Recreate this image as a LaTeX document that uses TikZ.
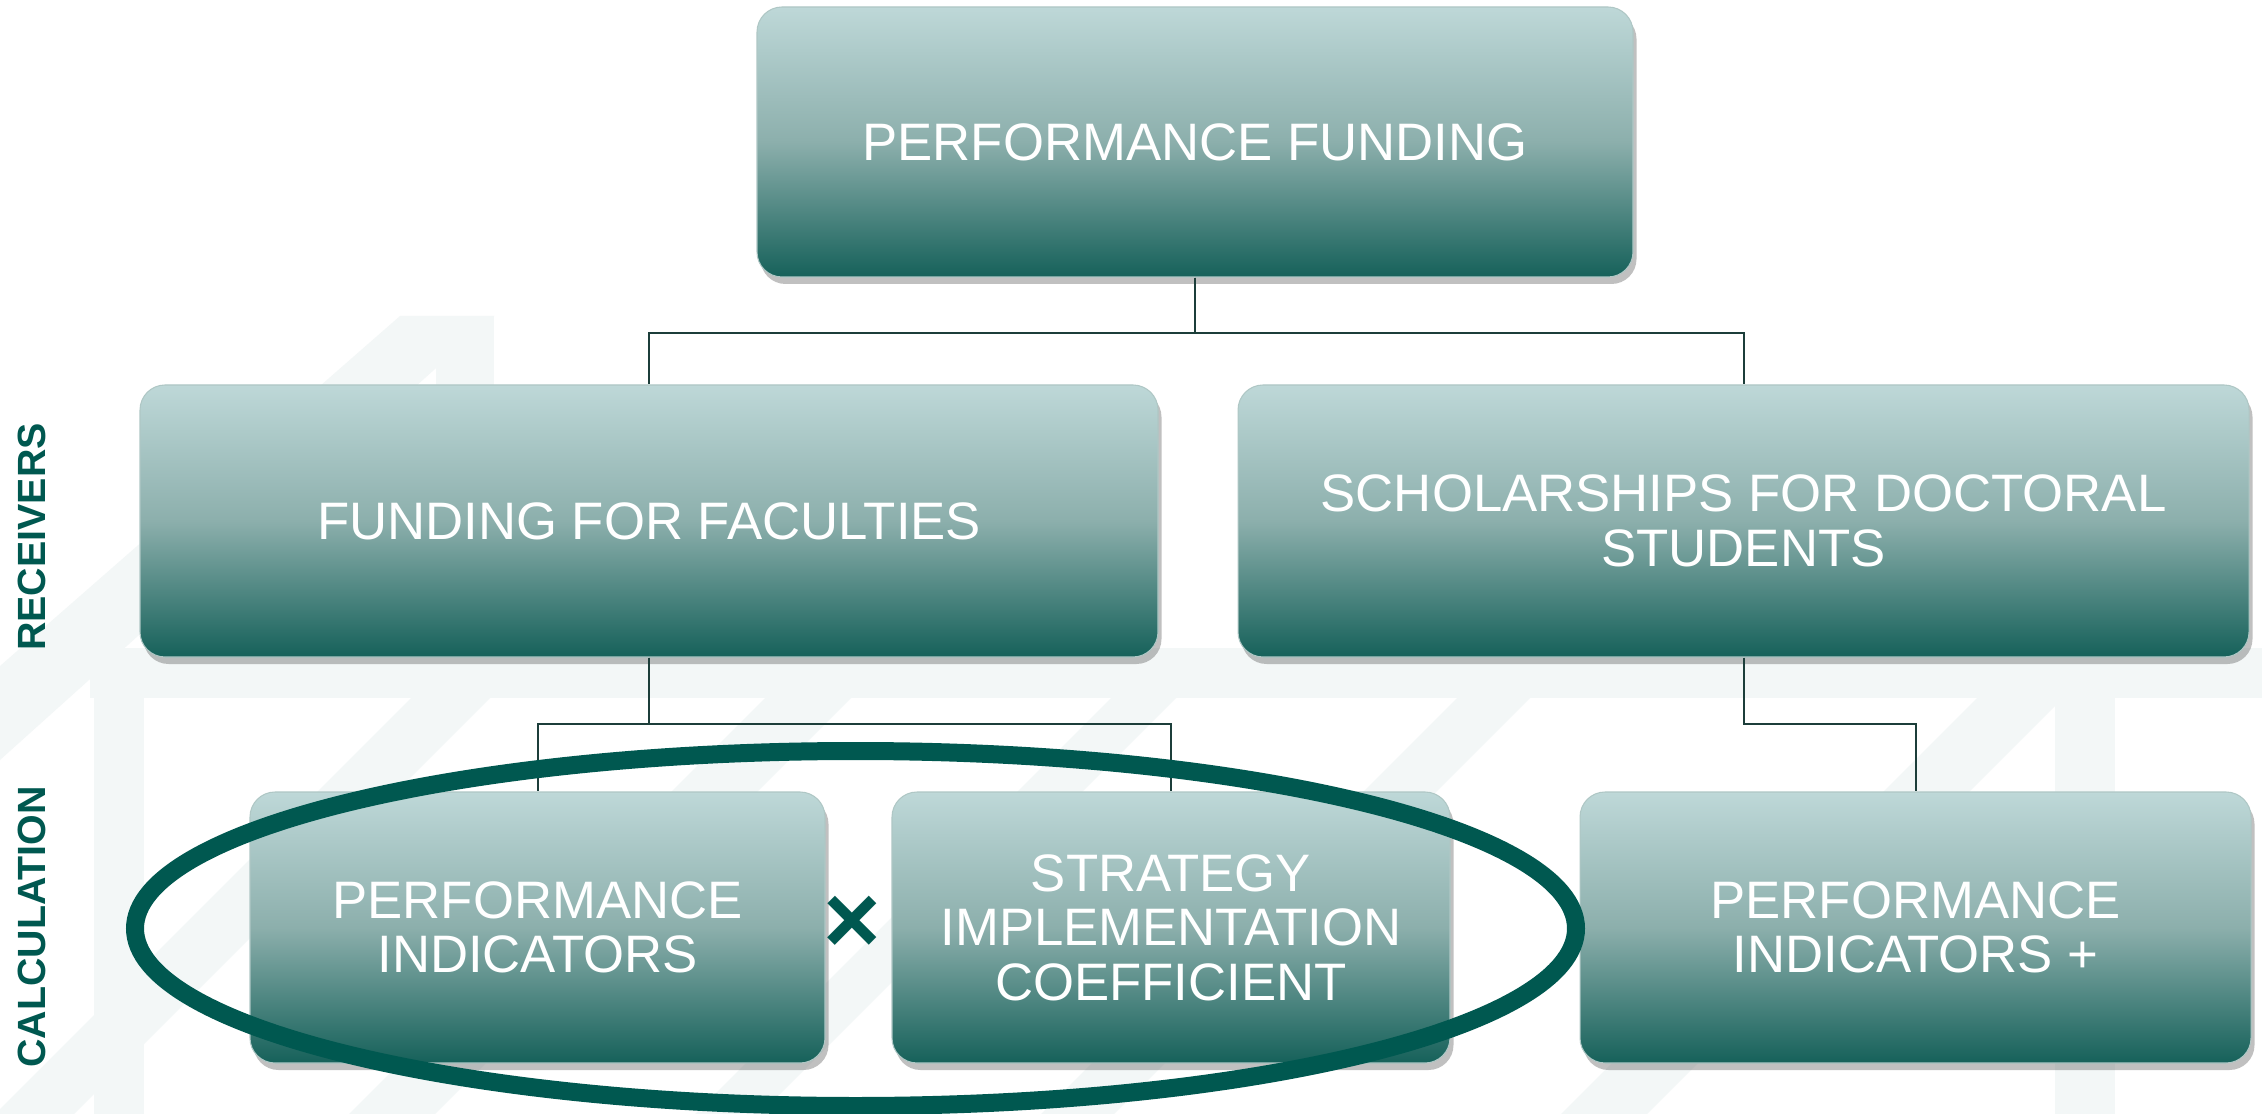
\documentclass[tikz,border=0pt]{standalone}
\usepackage{fontspec}
\setmainfont{Liberation Sans}
\usetikzlibrary{shadows,calc}
\definecolor{boxtop}{RGB}{190,216,216}
\definecolor{boxmid}{RGB}{140,175,172}
\definecolor{boxbot}{RGB}{22,97,90}
\definecolor{darkteal}{RGB}{0,88,80}
\definecolor{bgpat}{RGB}{243,247,247}
\definecolor{connclr}{RGB}{28,62,58}
\tikzset{
  box/.style={rounded corners=2.5mm, top color=boxtop, bottom color=boxbot, middle color=boxmid,
    draw=boxmid!70!white, line width=0.3pt, text=white, align=center, inner sep=0pt,
    font=\fontsize{15}{15.5}\selectfont,
    drop shadow={shadow xshift=0.35mm, shadow yshift=-0.7mm, opacity=0.35, fill=black!70}},
  conn/.style={draw=connclr, line width=0.2mm},
  sidelabel/.style={rotate=90, text=darkteal, font=\bfseries\fontsize{11.2}{13}\selectfont, inner sep=0pt},
  bgshape/.style={fill=bgpat, draw=none}
}
\begin{document}
\begin{tikzpicture}[x=0.1mm, y=-0.1mm]
\useasboundingbox (0,0) rectangle (2262,1114);
\fill[white] (0,0) rectangle (2262,1114);
% faint background pattern
\fill[bgshape] (90,648) rectangle (2262,698);
\fill[bgshape] (436,316) rectangle (494,648);
\fill[bgshape] (400,316) -- (494,316) -- (0,760) -- (0,666) -- cycle;
\fill[bgshape] (94,698) rectangle (144,1114);
\fill[bgshape] (2055,698) rectangle (2115,1114);
\foreach \a/\b in {411/490, 765/851, 1111/1176, 1457/1530, 1977/2063}{
  \fill[bgshape] (\a,698) -- (\b,698) -- ({\b-416},1114) -- ({\a-416},1114) -- cycle;
}
% boxes
\node[box, minimum width=87.6mm, minimum height=27mm] (top) at (1195,142) {PERFORMANCE FUNDING};
\node[box, minimum width=101.8mm, minimum height=27.2mm] (fac) at (649,521) {FUNDING FOR FACULTIES};
\node[box, minimum width=101.1mm, minimum height=27.2mm] (sch) at (1743.5,521) {SCHOLARSHIPS FOR DOCTORAL\\STUDENTS};
\node[box, minimum width=57.5mm, minimum height=27.1mm] (pi) at (537.5,927.5) {PERFORMANCE\\INDICATORS};
\node[box, minimum width=55.8mm, minimum height=27.1mm] (sic) at (1171,927.5) {STRATEGY\\IMPLEMENTATION\\COEFFICIENT};
\node[box, minimum width=67.1mm, minimum height=27.1mm] (pip) at (1915.5,927.5) {PERFORMANCE\\INDICATORS +};
% connectors
\draw[conn] (top.south) -- ++(0,55) -| (fac.north);
\draw[conn] (top.south) -- ++(0,55) -| (sch.north);
\draw[conn] (fac.south) -- ++(0,66) -| (pi.north);
\draw[conn] (fac.south) -- ++(0,66) -| (sic.north);
\draw[conn] (sch.south) -- ++(0,66) -| (pip.north);
% multiplication sign
\node[text=darkteal, font=\bfseries\fontsize{28}{30}\selectfont, inner sep=0pt] (times) at (852,925) {×};
% ellipse
\draw[darkteal, line width=1.8mm] (855.5,928.5) ellipse [x radius=72.05mm, y radius=17.75mm];
% side labels
\node[sidelabel] (recv) at (32,537) {RECEIVERS};
\node[sidelabel] (calc) at (32,927) {CALCULATION};
\end{tikzpicture}
\end{document}
